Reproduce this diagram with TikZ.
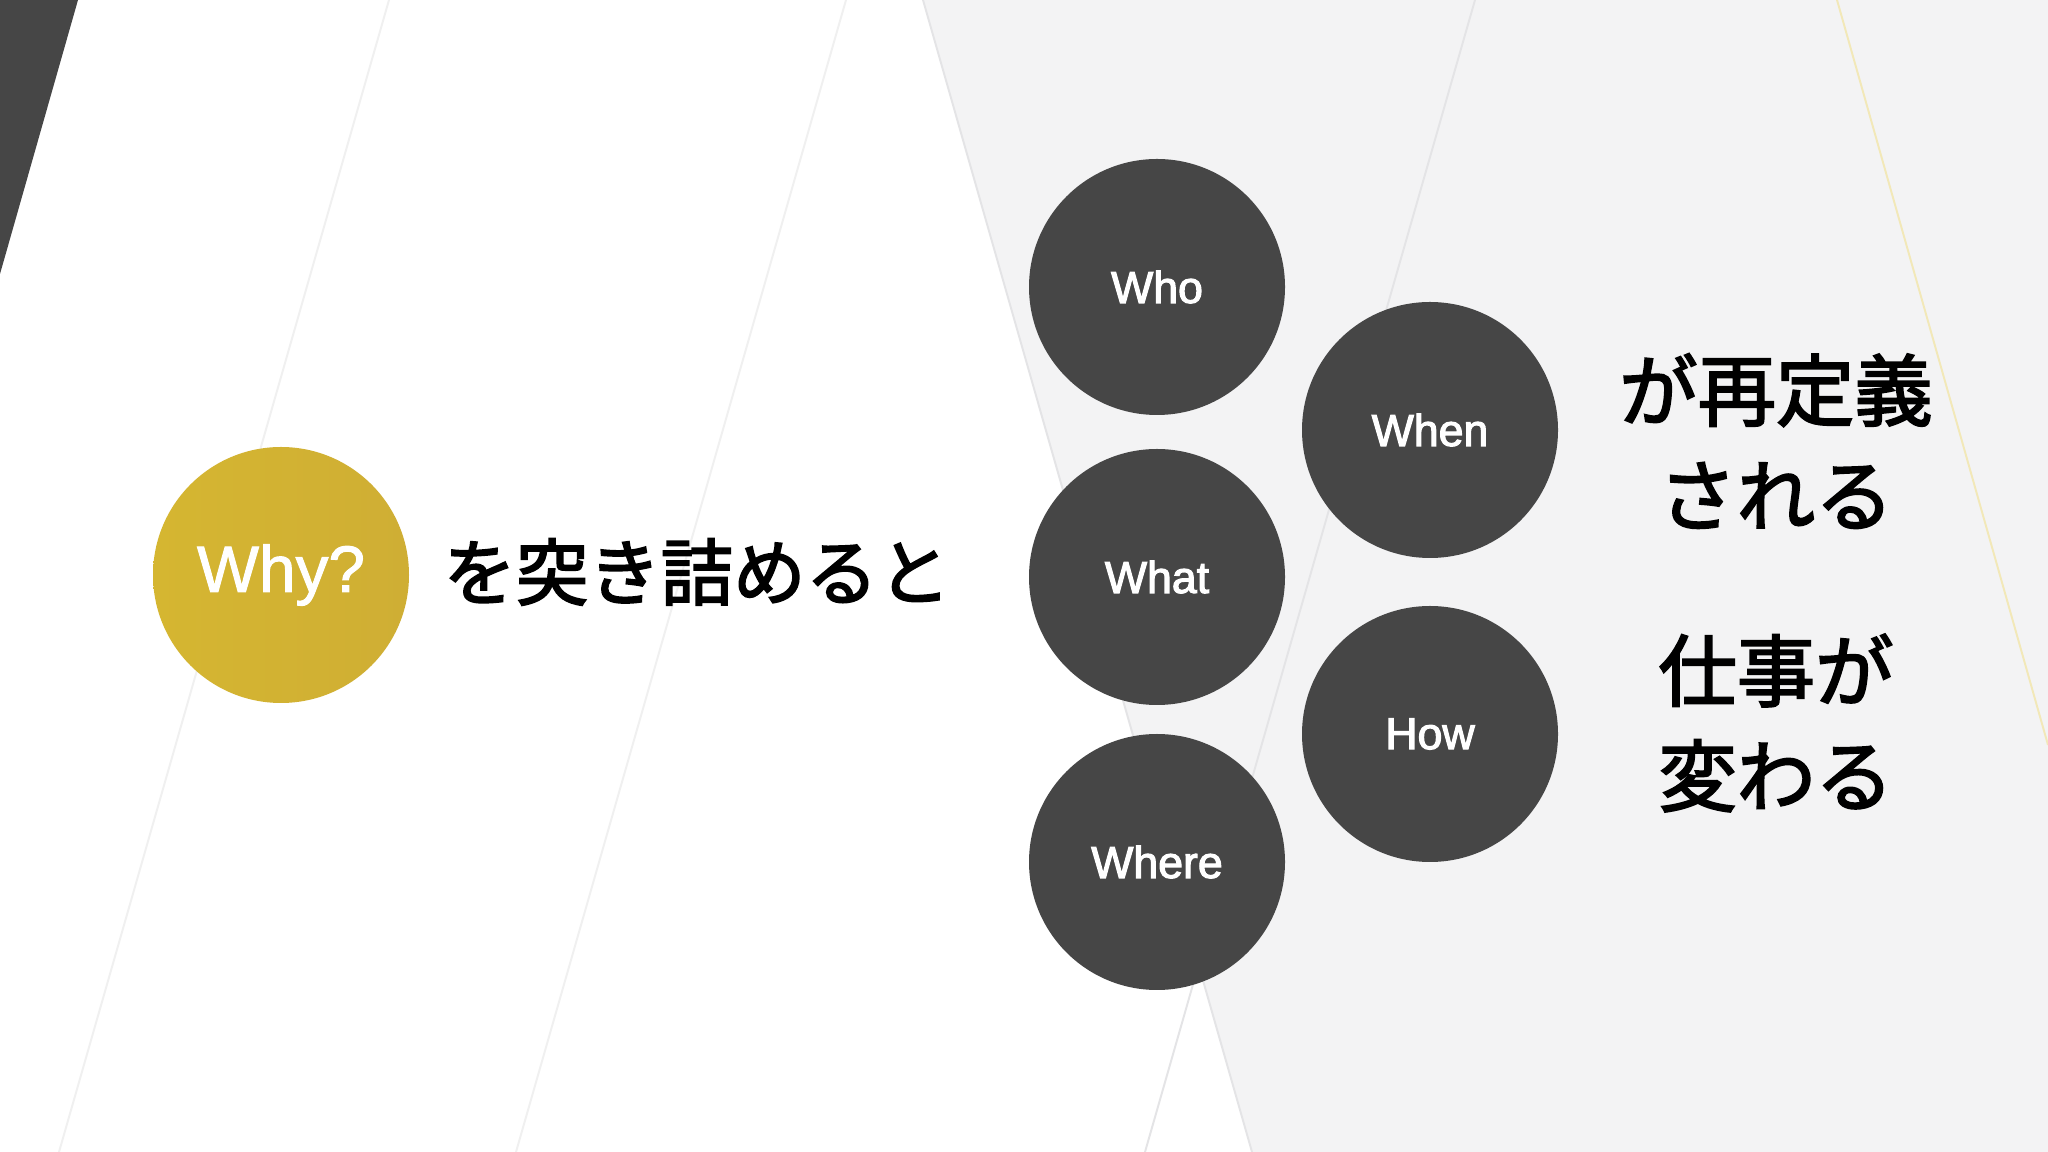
\documentclass[tikz,border=0pt]{standalone}
\usepackage{fontspec}
\setmainfont{Liberation Sans}
\newfontfamily\labelfont{Liberation Sans}[UprightFeatures={FakeBold=2.5}]
\newfontfamily\whyfont{Liberation Sans}[UprightFeatures={FakeBold=1.5}]
\newfontfamily\jp{Noto Sans CJK JP}[UprightFeatures={FakeBold=2.5}]
\definecolor{darkc}{HTML}{464646}
\definecolor{bggray}{HTML}{F3F3F4}
\definecolor{goldL}{HTML}{D5B631}
\definecolor{goldR}{HTML}{CFAE34}
\definecolor{faintline}{HTML}{F0F0F0}
\definecolor{midline}{HTML}{E4E4E6}
\definecolor{yelline}{HTML}{F2E8B8}
\tikzset{
  wcircle/.style={circle, fill=darkc, minimum size=25.6mm, inner sep=0pt, text=white,
    font=\labelfont\fontsize{12.7}{15}\selectfont},
  whycircle/.style={circle, left color=goldL, right color=goldR, minimum size=25.6mm, inner sep=0pt, text=white,
    font=\whyfont\fontsize{18.7}{22}\selectfont},
  bgline/.style={line width=0.55pt},
  jptext/.style={text=black, inner sep=0pt, align=center}
}
\begin{document}
\begin{tikzpicture}[x=0.1mm,y=-0.1mm]
\useasboundingbox (0,0) rectangle (2048,1152);
\fill[white] (0,0) rectangle (2048,1152);
% light gray right region
\fill[bggray] (923,0) -- (2048,0) -- (2048,1152) -- (1252,1152) -- cycle;
% faint background lines
\draw[bgline, faintline] (389,0) -- (59,1152);
\draw[bgline, faintline] (846,0) -- (516,1152);
\draw[bgline, midline] (923,0) -- (1252,1152);
\draw[bgline, midline] (1475,0) -- (1145,1152);
\draw[bgline, yelline] (1837,0) -- (2048,745);
% dark corner
\fill[darkc] (0,0) -- (78,0) -- (0,274) -- cycle;
% Why circle and text
\node[whycircle] (why) at (281,575) {Why?};
\node[jptext, font=\jp\fontsize{20.6}{24}\selectfont] (lead) at (697,572) {を突き詰めると};
% 5W1H circles
\node[wcircle] (who) at (1157,287) {Who};
\node[wcircle] (when) at (1430,430) {When};
\node[wcircle] (what) at (1157,577) {What};
\node[wcircle] (how) at (1430,734) {How};
\node[wcircle] (where) at (1157,862) {Where};
% right texts
\node[jptext, font=\jp\fontsize{22.3}{29.9}\selectfont] (redef) at (1776,441) {が再定義\\される};
\node[jptext, font=\jp\fontsize{22.3}{29.9}\selectfont] (change) at (1776,723) {仕事が\\変わる};
\end{tikzpicture}
\end{document}
